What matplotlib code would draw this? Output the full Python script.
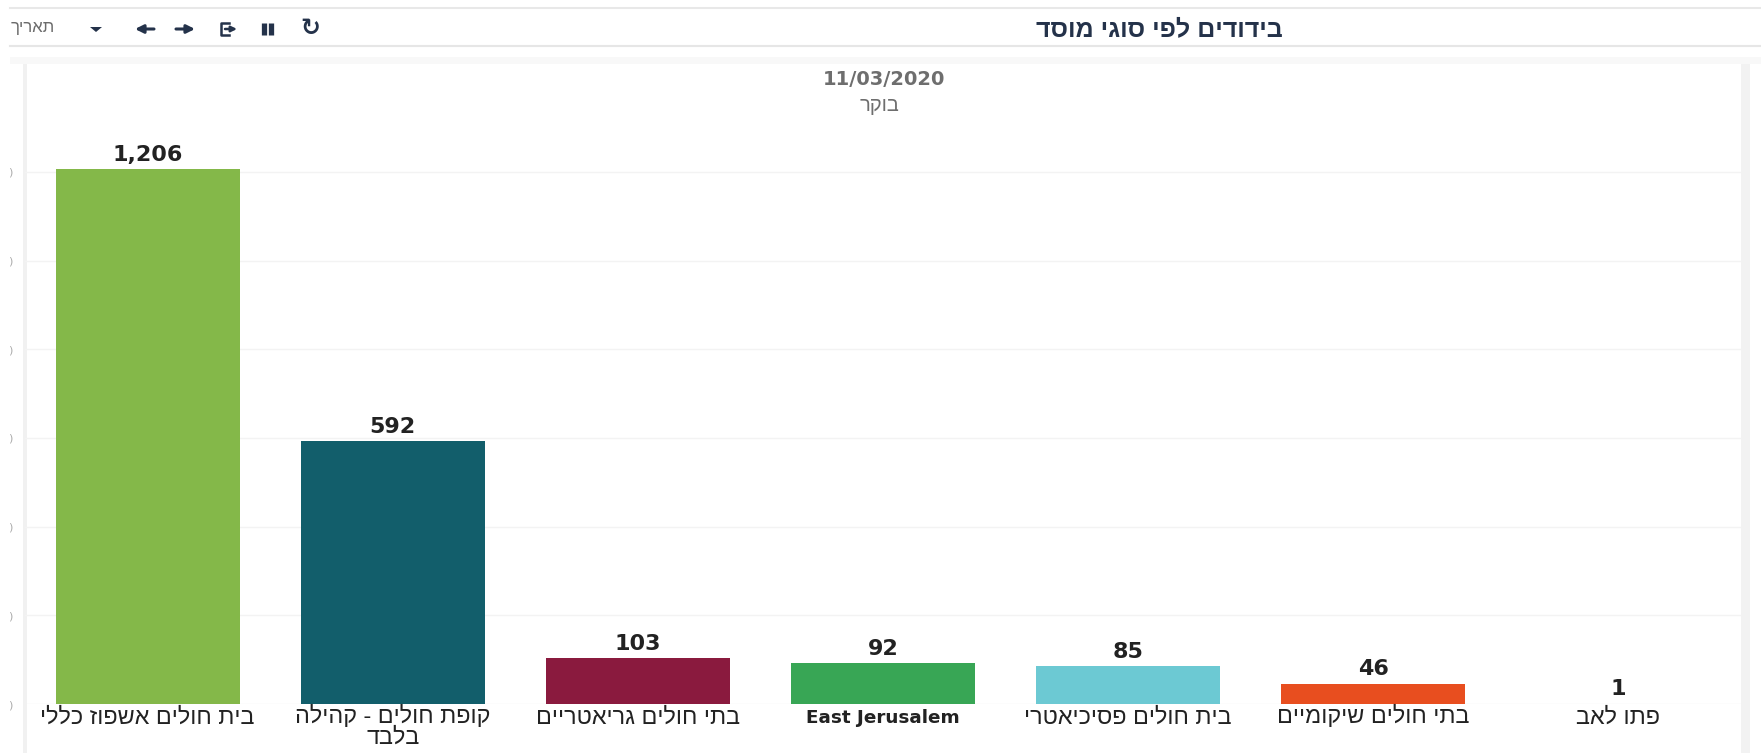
import unicodedata

import matplotlib
matplotlib.use("Agg")
import matplotlib.pyplot as plt

W, H = 1761, 753

categories = ["בית חולים אשפוז כללי", "קופת חולים - קהילה\nבלבד", "בתי חולים גריאטריים",
              "East Jerusalem", "בית חולים פסיכיאטרי", "בתי חולים שיקומיים", "פתו לאב"]
values = [1206, 592, 103, 92, 85, 46, 1]
colors = ["#84B849", "#125E6B", "#8A1A3E", "#38A655", "#6CC9D3", "#E84E1F", "#BBBBBB"]
grid_ticks = [0, 200, 400, 600, 800, 1000, 1200]
title = "בידודים לפי סוגי מוסד"
date_label = "11/03/2020"
sub_label = "בוקר"
filter_label = "תאריך"


def is_hebrew(line):
    return any("HEBREW" in unicodedata.name(c, "") for c in line)


def heb(line):
    """matplotlib has no bidi: flip Hebrew lines so they read right to left."""
    return line[::-1] if is_hebrew(line) else line


fig = plt.figure(figsize=(W / 100, H / 100), dpi=100, facecolor="white")

# page chrome, in pixel coordinates
bg = fig.add_axes([0, 0, 1, 1])
bg.set_xlim(0, W)
bg.set_ylim(H, 0)
bg.axis("off")
bg.plot([10, W], [8, 8], color="#E8E8E8", lw=1.5)
bg.plot([10, W], [46, 46], color="#E6E6E6", lw=1.5)
bg.fill_between([10, W], 57, 64, color="#F8F8F8", lw=0)
bg.fill_between([23, 27], 64, H, color="#F1F1F1", lw=0)
bg.fill_between([1741, 1750], 64, H, color="#F2F2F2", lw=0)
bg.text(1159, 29, heb(title), ha="center", va="center", fontsize=18, fontweight="bold",
        family="Liberation Sans", color="#24324A")
bg.text(33, 27, heb(filter_label), ha="center", va="center", fontsize=12,
        family="Liberation Sans", color="#6B6B6B")

# toolbar icons
navy = "#24324A"
arrow = dict(arrowstyle="-|>", color=navy, lw=2.2, mutation_scale=12, shrinkA=0, shrinkB=0)
bg.fill([90, 102, 96], [27, 27, 32], color=navy, lw=0)
bg.annotate("", (135, 29), (154, 29), arrowprops=arrow)
bg.annotate("", (195, 29), (176, 29), arrowprops=arrow)
bg.plot([229, 221, 221, 229], [23, 23, 35, 35], color=navy, lw=1.8)
bg.annotate("", (237, 29), (225, 29), arrowprops=dict(arrow, lw=1.8, mutation_scale=8))
bg.plot([264, 264], [23, 35], color=navy, lw=3.8, solid_capstyle="butt")
bg.plot([271, 271], [23, 35], color=navy, lw=3.8, solid_capstyle="butt")
bg.text(310, 28, "\u21bb", ha="center", va="center", fontsize=17, fontweight="bold",
        family="DejaVu Sans", color=navy)

# chart
ax = fig.add_axes([25 / W, 1 - 704 / H, 1716 / W, (704 - 65) / H])
ax.patch.set_alpha(0)
ax.bar(range(len(values)), values, width=0.75, color=colors)
ax.set_xlim(-0.5, 6.5)
ax.set_ylim(0, 1441)
ax.set_yticks(grid_ticks)
ax.set_yticklabels([")"] * len(grid_ticks), fontsize=8, color="#AAAAAA")
ax.tick_params(axis="y", length=0, pad=9)
ax.set_xticks(range(len(categories)))
ax.set_xticklabels([])
ax.tick_params(axis="x", length=0)
ax.grid(axis="y", color="#F3F3F3", lw=1)
ax.set_axisbelow(True)
for s in ax.spines.values():
    s.set_visible(False)

# one text per line so every label sits on the same baseline
for i, cat in enumerate(categories):
    for j, line in enumerate(cat.split("\n")):
        style = dict(fontsize=16.8, family="Liberation Sans") if is_hebrew(line) else \
            dict(fontsize=13.2, family="DejaVu Sans", fontweight="bold")
        ax.annotate(heb(line), (i, 0), xytext=(0, -14 - 14.4 * j), textcoords="offset points",
                    ha="center", va="baseline", color="#222222", annotation_clip=False, **style)

for i, v in enumerate(values):
    ax.annotate(f"{v:,}", (i, v), xytext=(0, 3), textcoords="offset points", ha="center", va="bottom",
                fontsize=16, fontweight="bold", color="#222222", family="DejaVu Sans")

bg.text(884, 79, date_label, ha="center", va="center", fontsize=14, fontweight="bold",
        family="DejaVu Sans", color="#6E6E6E")
bg.text(879, 105, heb(sub_label), ha="center", va="center", fontsize=14.5,
        family="Liberation Sans", color="#6E6E6E")

fig.savefig("out.png", dpi=100)
